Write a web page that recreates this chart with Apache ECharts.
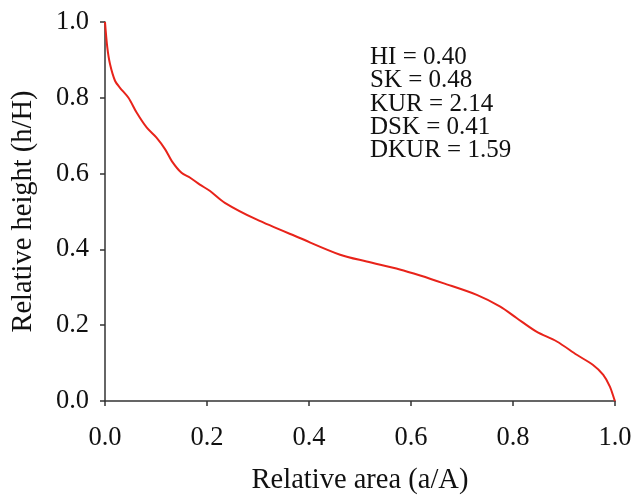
<!DOCTYPE html>
<html>
<head>
<meta charset="utf-8">
<script src="https://cdn.jsdelivr.net/npm/echarts@6/dist/echarts.min.js"></script>
<style>
  html, body { margin: 0; padding: 0; background: #fff; }
  #chart { width: 634px; height: 499px; }
</style>
</head>
<body>
<div id="chart"></div>
<script>
// hypsometric curve
let relArea = [0, 0.0045, 0.0098, 0.0196, 0.029, 0.046, 0.062, 0.082, 0.101, 0.118, 0.131, 0.150, 0.167, 0.186, 0.206, 0.235, 0.297, 0.382, 0.461, 0.513, 0.578, 0.618, 0.663, 0.729, 0.775, 0.807, 0.846, 0.886, 0.925, 0.957, 0.977, 0.990, 0.999, 1.0];
let relHeight = [1.0, 0.933, 0.889, 0.845, 0.827, 0.800, 0.761, 0.721, 0.695, 0.664, 0.633, 0.602, 0.589, 0.571, 0.554, 0.523, 0.479, 0.430, 0.386, 0.368, 0.347, 0.331, 0.311, 0.280, 0.249, 0.219, 0.183, 0.157, 0.122, 0.095, 0.069, 0.038, 0.003, 0.0];
let statsText = ['HI = 0.40', 'SK = 0.48', 'KUR = 2.14', 'DSK = 0.41', 'DKUR = 1.59'];

let fontFam = '"Liberation Serif", "Times New Roman", serif';
let axisColor = '#333';

let myChart = echarts.init(document.getElementById('chart'), null, {renderer: 'canvas'});

let option = {
    animation: false,
    backgroundColor: '#fff',
    grid: {
        left: 105,
        right: 19,
        top: 22,
        bottom: 98,
        containLabel: false,
        outerBoundsMode: 'none'
    },
    xAxis: {
        type: 'value',
        min: 0,
        max: 1,
        interval: 0.2,
        name: 'Relative area (a/A)',
        nameLocation: 'middle',
        nameGap: 65,
        nameMoveOverlap: false,
        nameTextStyle: {fontFamily: fontFam, fontSize: 28.5, color: '#111'},
        axisLine: {lineStyle: {color: axisColor, width: 1.5}},
        axisTick: {show: true, inside: false, length: 5, lineStyle: {color: axisColor, width: 1.5}},
        axisLabel: {
            fontFamily: fontFam, fontSize: 26.5, color: '#111', margin: 24,
            formatter: function (v) { return v.toFixed(1); }
        },
        splitLine: {show: false}
    },
    yAxis: {
        type: 'value',
        min: 0,
        max: 1,
        interval: 0.2,
        name: 'Relative height (h/H)',
        nameLocation: 'middle',
        nameGap: 67,
        nameMoveOverlap: false,
        nameTextStyle: {fontFamily: fontFam, fontSize: 28.5, color: '#111'},
        axisLine: {show: true, lineStyle: {color: axisColor, width: 1.5}},
        axisTick: {show: true, inside: false, length: 5, lineStyle: {color: axisColor, width: 1.5}},
        axisLabel: {
            fontFamily: fontFam, fontSize: 26.5, color: '#111', margin: 16,
            formatter: function (v) { return v.toFixed(1); }
        },
        splitLine: {show: false}
    },
    graphic: [{
        type: 'text',
        left: 370,
        top: 45,
        style: {
            text: statsText.join('\n'),
            fontFamily: fontFam,
            fontSize: 25,
            lineHeight: 23.3,
            fill: '#111'
        }
    }],
    series: [{
        type: 'line',
        data: relArea.map(function (a, i) { return [a, relHeight[i]]; }),
        showSymbol: false,
        smooth: 0.3,
        lineStyle: {color: '#e8231a', width: 2},
        clip: false
    }]
};

myChart.setOption(option);
</script>
</body>
</html>
